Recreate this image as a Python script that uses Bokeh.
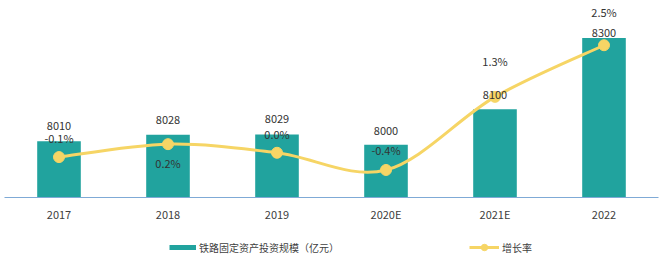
from bokeh.plotting import figure
from bokeh.layouts import column
from bokeh.models import ColumnDataSource, FactorRange, Range1d, Legend, LegendItem
from bokeh.core.properties import value
from bokeh.embed import file_html
from bokeh.resources import INLINE

# ---- data ----
years = ["2017", "2018", "2019", "2020E", "2021E", "2022"]
investment = [8010, 8028, 8029, 8000, 8100, 8300]          # 亿元
growth = [-0.1, 0.2, 0.0, -0.4, 1.3, 2.5]                 # %
series_names = ["铁路固定资产投资规模（亿元）", "增长率"]

# ---- label placement (screen px, negative = up) ----
bar_label_dy = [-15, -15, -15, -14, -14, -5]
growth_label_dy = [-19, 19, -19, -20, -36, -33]

FONT = "Noto Sans CJK SC"
BAR = "#21a39e"
LINE = "#f6d565"
TXT = "#333333"

src = ColumnDataSource(dict(
    year=years,
    inv=investment,
    g=growth,
    inv_lbl=[str(v) for v in investment],
    g_lbl=["{:.1f}%".format(v) for v in growth],
    bar_dy=bar_label_dy,
    g_dy=growth_label_dy,
))

p = figure(width=660, height=226,
           x_range=FactorRange(factors=years, range_padding=0),
           y_range=Range1d(7852, 8405),
           output_backend="svg", toolbar_location=None,
           y_axis_location=None,
           min_border_left=4, min_border_right=2,
           min_border_top=0, min_border_bottom=29)
p.extra_y_ranges = {"g": Range1d(-1.04, 3.54)}
p.outline_line_color = None
p.grid.visible = False
p.background_fill_color = "white"
p.border_fill_color = "white"

ax = p.xaxis[0]
ax.axis_line_color = "#7faad6"
ax.axis_line_width = 1
ax.major_tick_line_color = None
ax.major_tick_out = 0
ax.major_tick_in = 0
ax.minor_tick_line_color = None
ax.major_label_text_font = FONT
ax.major_label_text_font_size = "11px"
ax.major_label_text_color = "#404040"
ax.major_label_standoff = 8

# bars
p.vbar(x="year", top="inv", bottom=0, width=0.4, source=src,
       fill_color=BAR, line_color=None)

# smooth growth curve (Catmull-Rom -> cubic Bezier, derived from the data)
n = len(growth)
xs = [i + 0.5 for i in range(n)]
def pt(i):
    i = max(0, min(n - 1, i))
    return xs[i], growth[i]
bz = dict(x0=[], y0=[], x1=[], y1=[], cx0=[], cy0=[], cx1=[], cy1=[])
for i in range(n - 1):
    xa, ya = pt(i - 1)
    xb, yb = pt(i)
    xc, yc = pt(i + 1)
    xd, yd = pt(i + 2)
    bz["x0"].append(xb); bz["y0"].append(yb)
    bz["x1"].append(xc); bz["y1"].append(yc)
    bz["cx0"].append(xb + (xc - xa) / 6); bz["cy0"].append(yb + (yc - ya) / 6)
    bz["cx1"].append(xc - (xd - xb) / 6); bz["cy1"].append(yc - (yd - yb) / 6)
p.bezier(x0="x0", y0="y0", x1="x1", y1="y1", cx0="cx0", cy0="cy0",
         cx1="cx1", cy1="cy1", source=ColumnDataSource(bz),
         y_range_name="g", line_color=LINE, line_width=3)
p.scatter(x="year", y="g", source=src, y_range_name="g", size=11,
          fill_color=LINE, line_color=LINE)

# labels
p.text(x="year", y="inv", text="inv_lbl", y_offset="bar_dy", source=src,
       text_align="center", text_baseline="middle",
       text_font=value(FONT), text_font_size="11px", text_color=TXT)
p.text(x="year", y="g", text="g_lbl", y_offset="g_dy", source=src,
       y_range_name="g",
       text_align="center", text_baseline="middle",
       text_font=value(FONT), text_font_size="11px", text_color=TXT)

# ---- legend strip (separate figure below the chart) ----
lg = figure(width=660, height=40, x_range=Range1d(0, 1), y_range=Range1d(0, 1),
            output_backend="svg", toolbar_location=None,
            x_axis_location=None, y_axis_location=None,
            min_border_left=0, min_border_right=0,
            min_border_top=0, min_border_bottom=0)
lg.outline_line_color = None
lg.grid.visible = False
lg.background_fill_color = "white"
lg.border_fill_color = "white"

# legend proxies (NaN data: nothing drawn in the plot, glyph shown in legend)
nan = float("nan")
r_bar_leg = lg.line(x=[nan], y=[nan], line_color=BAR, line_width=5)
r_line_leg = lg.line(x=[nan], y=[nan], line_color=LINE, line_width=3)
r_mark_leg = lg.scatter(x=[nan], y=[nan], fill_color=LINE, line_color=LINE)

common = dict(padding=0, margin=0, border_line_color=None,
              background_fill_alpha=0, glyph_height=16, label_height=16,
              label_standoff=3, label_text_font=FONT,
              label_text_font_size="10px", label_text_color="#404040")
leg1 = Legend(items=[LegendItem(label=series_names[0], renderers=[r_bar_leg])],
              location=(165, 11), glyph_width=27, **common)
leg2 = Legend(items=[LegendItem(label=series_names[1], renderers=[r_line_leg, r_mark_leg])],
              location=(465, 11), glyph_width=30, **common)
lg.add_layout(leg1)
lg.add_layout(leg2)

layout = column(p, lg, spacing=0)
open("out.html", "w").write(file_html(layout, INLINE))
